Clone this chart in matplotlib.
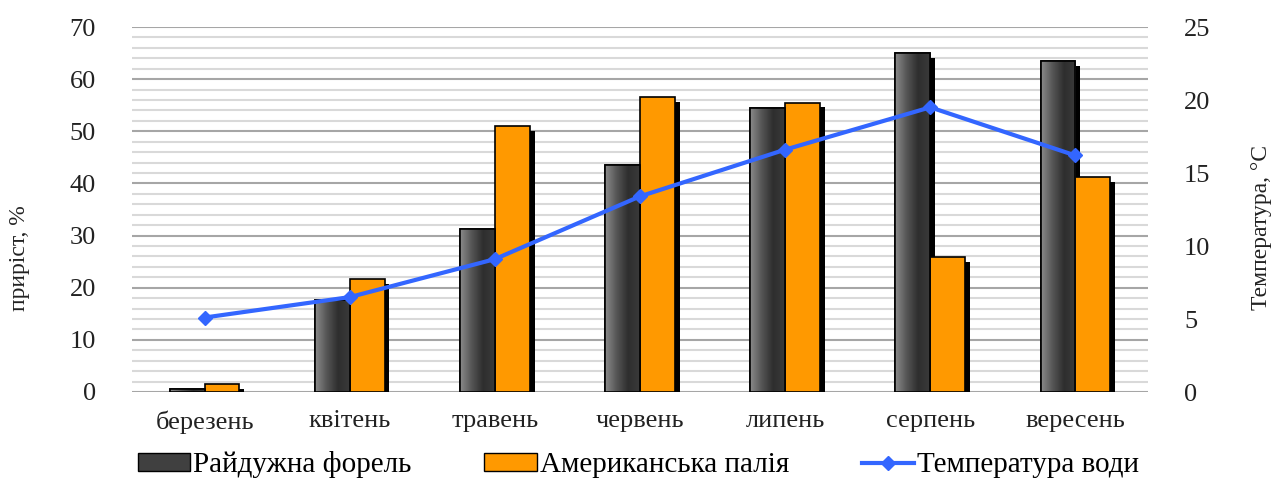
import matplotlib.pyplot as plt
import matplotlib.patheffects as pe
import numpy as np
from matplotlib.colors import LinearSegmentedColormap
from matplotlib.patches import Patch
from matplotlib.lines import Line2D

months = ['березень', 'квітень', 'травень', 'червень', 'липень', 'серпень', 'вересень']
trout = [0.6, 17.6, 31.3, 43.6, 54.5, 65.0, 63.5]
charr = [1.5, 21.6, 51.0, 56.5, 55.5, 25.8, 41.2]
temp = [5.1, 6.5, 9.1, 13.4, 16.6, 19.5, 16.2]

plt.rcParams['font.family'] = ['Liberation Serif', 'DejaVu Serif']

fig = plt.figure(figsize=(12.77, 4.78), dpi=100)
ax = fig.add_axes([132 / 1277, 1 - 392 / 478, (1148 - 132) / 1277, (392 - 27) / 478])
ax2 = ax.twinx()

x = np.arange(len(months))
w = 0.24
shadow = [pe.SimplePatchShadow(offset=(3.5, -3.5), shadow_rgbFace='black', alpha=1), pe.Normal()]

b1 = ax.bar(x - w / 2, trout, w, color='#404040', edgecolor='black', linewidth=1.2,
            path_effects=shadow, zorder=3)
b2 = ax.bar(x + w / 2, charr, w, color='#ff9900', edgecolor='black', linewidth=1.2,
            path_effects=shadow, zorder=3)

# horizontal gradient on the trout bars
cm = LinearSegmentedColormap.from_list('g', ['#8a8a8a', '#555555', '#2e2e2e', '#3a3a3a'])
grad = np.linspace(0, 1, 64).reshape(1, -1)
for r in b1:
    x0, y0 = r.get_x(), r.get_y()
    im = ax.imshow(grad, cmap=cm, vmin=0, vmax=1, aspect='auto',
                   extent=[x0, x0 + r.get_width(), y0, y0 + r.get_height()],
                   zorder=3.5, interpolation='bicubic')
    im.set_clip_path(r)
    ax.add_patch(plt.Rectangle((x0, y0), r.get_width(), r.get_height(),
                               fill=False, edgecolor='black', linewidth=1.2, zorder=3.6))

ax2.plot(x, temp, color='#3366ff', linewidth=3, marker='D', markersize=7, zorder=5)

ax.set_xlim(-0.5, len(months) - 0.5)
ax.set_ylim(0, 70)
ax2.set_ylim(0, 25)
ax.set_yticks(np.arange(0, 71, 10))
ax.set_yticks(np.arange(0, 71, 2), minor=True)
ax2.set_yticks(np.arange(0, 26, 5))
ax.set_xticks(x)
ax.set_xticklabels(months)
ax.grid(axis='y', which='major', color='#a6a6a6', linewidth=1.5, zorder=0)
ax.grid(axis='y', which='minor', color='#d9d9d9', linewidth=1.5, zorder=0)
ax.set_axisbelow(True)

for a in (ax, ax2):
    for s in a.spines.values():
        s.set_visible(False)
    a.tick_params(which='both', length=0, labelsize=19, colors='#222222')
ax.tick_params(axis='x', pad=13)
ax.tick_params(axis='y', pad=26)
ax2.tick_params(axis='y', pad=26)

fig.text(20 / 1277, 1 - 258 / 478, 'приріст, %', rotation=90, fontsize=17,
         ha='center', va='center', color='#222222')
fig.text(1262 / 1277, 1 - 228 / 478, 'Температура, °C', rotation=90, fontsize=17,
         ha='center', va='center', color='#222222')

handles = [Patch(facecolor='#404040', edgecolor='black'),
           Patch(facecolor='#ff9900', edgecolor='black'),
           Line2D([0], [0], color='#3366ff', linewidth=3, marker='D', markersize=7)]
labels = ['Райдужна форель', 'Американська палія', 'Температура води']
fig.legend(handles, labels, loc='center', bbox_to_anchor=(0.5, 1 - 465 / 478), ncol=3,
           frameon=False, fontsize=21, handlelength=1.8, handleheight=0.55,
           columnspacing=2.5, handletextpad=0.1, borderpad=0)

fig.savefig('out.png', dpi=100)
